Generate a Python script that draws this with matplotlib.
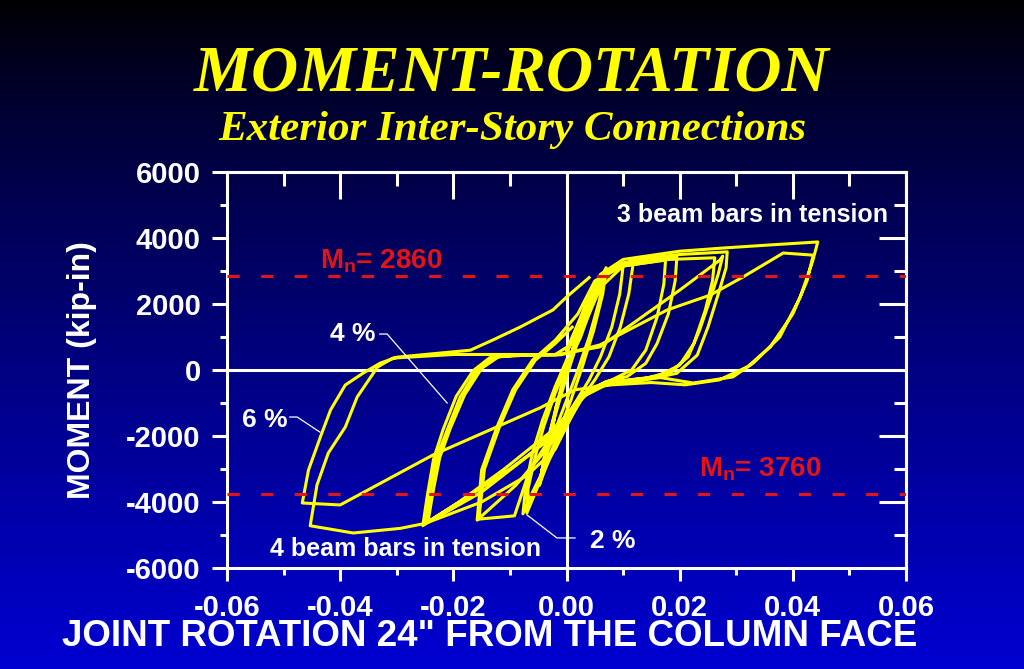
import numpy as np
import matplotlib.pyplot as plt
from matplotlib.ticker import MultipleLocator, FormatStrFormatter

plt.rcParams['font.family'] = ['Liberation Sans', 'DejaVu Sans']
plt.rcParams['axes.unicode_minus'] = False

# joint rotation (rad) and moment (kip-in), one continuous path per drift level
rot_05 = [0.0, 0.0012, 0.0025, 0.0035, 0.0030, 0.0015, 0.0, -0.0012, -0.0022, -0.0028, -0.0020, -0.0008,
          0.0005, 0.0018, 0.0030, 0.0034, 0.0026, 0.0010, -0.0005, -0.0018, -0.0027, -0.0018, -0.0005, 0.0005]
mom_05 = [0, 700, 1500, 2100, 1500, 600, -200, -900, -1500, -2000, -1300, -500,
          300, 1000, 1700, 2000, 1300, 400, -400, -1100, -1900, -1100, -300, 200]

rot_1 = [0.0005, 0.0020, 0.0040, 0.0058, 0.0070, 0.0064, 0.0048, 0.0028, 0.0008, -0.0012, -0.0030,
         -0.0042, -0.0048, -0.0040, -0.0026, -0.0010, 0.0008, 0.0028, 0.0050, 0.0064, 0.0068, 0.0058,
         0.0040, 0.0018, -0.0004, -0.0024, -0.0040, -0.0045, -0.0034, -0.0018, 0.0]
mom_1 = [200, 1100, 2000, 2700, 3100, 2300, 1200, 100, -900, -1800, -2600,
         -3200, -3500, -2700, -1700, -700, 400, 1400, 2400, 2900, 3000, 2100,
         1000, -100, -1100, -2000, -2800, -3200, -2200, -1100, 100]

rot_2 = [0.0, 0.0030, 0.0060, 0.0090, 0.0118, 0.0110, 0.0095, 0.0075, 0.0050, 0.0025, 0.0, -0.0030,
         -0.0050, -0.0070, -0.0068, -0.0055, -0.0040, -0.0020, 0.0, 0.0025, 0.0050, 0.0075, 0.0100,
         0.0094, 0.0080, 0.0060, 0.0040, 0.0015, -0.0010, -0.0040, -0.0060, -0.0077, -0.0072, -0.0060,
         -0.0042, -0.0020, 0.0]
mom_2 = [500, 1700, 2700, 3150, 3250, 2300, 1300, 400, -300, -900, -1700, -2700,
         -3500, -4330, -3600, -2600, -1700, -700, 100, 1000, 2200, 3000, 3150,
         2300, 1300, 400, -300, -1000, -1900, -3000, -3700, -4360, -3500, -2500,
         -1500, -500, 300]

rot_3 = [0.0, 0.0030, 0.0060, 0.0100, 0.0150, 0.0195, 0.0192, 0.0180, 0.0160, 0.0140, 0.0107, 0.0070,
         0.0030, 0.0005, -0.0030, -0.0090, -0.0158, -0.0150, -0.0123, -0.0095, -0.0060, -0.0020, 0.0020,
         0.0050, 0.0100, 0.0175, 0.0172, 0.0160, 0.0140, 0.0115, 0.0080, 0.0040, 0.0010, -0.0030,
         -0.0065, -0.0092, -0.0155, -0.0145, -0.0118, -0.0090, -0.0055, -0.0020, 0.0010]
mom_3 = [500, 1800, 2800, 3250, 3350, 3420, 2700, 1700, 800, 200, -200, -350,
         -700, -1400, -2300, -3500, -4550, -3030, -1730, -600, 300, 900, 1700,
         2700, 3150, 3330, 2600, 1600, 600, 0, -300, -600, -1200, -2100,
         -3030, -4420, -4520, -3000, -1700, -600, 300, 800, 1300]

rot_4 = [0.001, 0.004, 0.007, 0.012, 0.020, 0.0284, 0.0282, 0.0270, 0.0250, 0.0231, 0.0195, 0.0153,
         0.0118, 0.0070, 0.0030, 0.0005, -0.0030, -0.0100, -0.0180, -0.0250, -0.0241, -0.0229, -0.0211,
         -0.0188, -0.0158, -0.0130, -0.0080, -0.0020, 0.0059, 0.0200, 0.0271, 0.0276, 0.0268, 0.0255,
         0.0235, 0.0215, 0.0185, 0.0140, 0.0090, 0.0040, 0.0010, -0.0030, -0.0110, -0.0190, -0.0254,
         -0.0246, -0.0235, -0.0218, -0.0195, -0.0165, -0.0135, -0.0080, -0.0020, 0.0020,
         0.0060, 0.0100, 0.0180, 0.0262, 0.0258, 0.0245, 0.0225, 0.0200, 0.0160, 0.0110, 0.0060,
         0.0020, -0.0010, -0.0060, -0.0150, -0.0245, -0.0236, -0.0224, -0.0205, -0.0180, -0.0150, -0.0120]
mom_4 = [800, 2200, 3000, 3350, 3500, 3580, 3100, 2400, 1300, 450, -100, -250,
         -350, -450, -800, -1500, -2100, -3000, -3900, -4650, -3640, -2640, -1820,
         -820, 0, 390, 440, 450, 700, 2420, 3330, 3450, 2900, 2200,
         1200, 400, -50, -250, -350, -600, -1200, -1900, -3000, -4000, -4720,
         -3800, -2700, -1800, -800, -20, 380, 460, 470, 900,
         2500, 3150, 3350, 3400, 2700, 1800, 800, 150, -200, -300, -450,
         -900, -1600, -2500, -3700, -4620, -3700, -2650, -1750, -750, 50, 400]

rot_6 = [0.000, 0.003, 0.006, 0.010, 0.020, 0.028, 0.036, 0.0444, 0.0435, 0.0413, 0.0377, 0.0330,
         0.0294, 0.0224, 0.0166, 0.0110, 0.0050, 0.0020, 0.0000, -0.0020, -0.0070, -0.0150, -0.0250,
         -0.0294, -0.0377, -0.0453, -0.0441, -0.0421, -0.0391, -0.0370, -0.0334, -0.0307, -0.0200,
         -0.0100, -0.0010, 0.0059, 0.0178, 0.0254, 0.0312, 0.0383, 0.0436, 0.0425, 0.0400, 0.0360,
         0.0320, 0.0270, 0.0210, 0.0150, 0.0080, 0.0015, -0.0047, -0.0236, -0.0400, -0.0467, -0.0456,
         -0.0435, -0.0417, -0.0391, -0.0359, -0.0329, -0.0299, -0.0170, -0.0130, -0.0082, -0.0024,
         0.0000, 0.0040]
mom_6 = [600, 1800, 2900, 3350, 3600, 3700, 3790, 3880, 3300, 2210, 1000, 210,
         -210, -395, -230, -350, -500, -1000, -1700, -2400, -3200, -4000, -4650,
         -4800, -4940, -4720, -3485, -2515, -1730, -820, 90, 360, 470,
         470, 460, 760, 1820, 2270, 2820, 3545, 3480, 2700, 1700, 700,
         100, -300, -450, -380, -450, -600, -1150, -2575, -4090, -4030, -3030,
         -2030, -1210, -455, -90, 210, 390, 600, 910, 1300, 1820,
         2210, 2800]

mn_pos = 2860
mn_neg = -3760

x_ticks = [-0.06, -0.04, -0.02, 0.00, 0.02, 0.04, 0.06]
y_ticks = [-6000, -4000, -2000, 0, 2000, 4000, 6000]

yellow = '#ffff00'
red = '#e31414'

fig = plt.figure(figsize=(10.24, 6.69), dpi=100)

# background gradient black -> blue
bg = fig.add_axes([0, 0, 1, 1], zorder=-10)
t = np.linspace(0, 1, 256)[:, None]
grad = np.zeros((256, 2, 3))
grad[:, :, 2] = (0.82 * t ** 0.8)
bg.imshow(grad, aspect='auto', extent=[0, 1, 0, 1], origin='upper')
bg.axis('off')

ax = fig.add_axes([0.2217, 0.1510, 0.6631, 0.5919])
ax.set_facecolor('none')

ax.axhline(0, color='white', lw=2.2, zorder=1)
ax.axvline(0, color='white', lw=2.2, zorder=1)

for r, m in [(rot_05, mom_05), (rot_1, mom_1), (rot_2, mom_2), (rot_3, mom_3), (rot_4, mom_4), (rot_6, mom_6)]:
    ax.plot(r, m, color=yellow, lw=2.2, zorder=2)

ax.axhline(mn_pos, color=red, lw=2.2, dashes=(4, 7), zorder=4)
ax.axhline(mn_neg, color=red, lw=2.2, dashes=(4, 7), zorder=4)

ax.set_xlim(-0.06, 0.06)
ax.set_ylim(-6000, 6000)
ax.set_xticks(x_ticks)
ax.set_yticks(y_ticks)
ax.xaxis.set_major_formatter(FormatStrFormatter('%.2f'))
ax.xaxis.set_minor_locator(MultipleLocator(0.01))
ax.yaxis.set_minor_locator(MultipleLocator(1000))
for sp in ax.spines.values():
    sp.set_color('white')
    sp.set_linewidth(2.2)

ax.tick_params(axis='x', which='major', direction='out', length=9.5, width=2.2, color='white',
               labelcolor='white', labelsize=21, pad=9)
ax.tick_params(axis='x', which='minor', direction='out', length=5, width=2.2, color='white')
ax.tick_params(axis='y', which='major', direction='out', length=11, width=2.2, color='white',
               labelcolor='white', labelsize=21, pad=8)
ax.tick_params(axis='y', which='minor', direction='out', length=5, width=2.2, color='white')
for lab in ax.get_xticklabels() + ax.get_yticklabels():
    lab.set_fontweight('bold')

top = ax.secondary_xaxis('top')
top.set_xticks(x_ticks)
top.xaxis.set_minor_locator(MultipleLocator(0.01))
top.tick_params(which='major', direction='in', length=19.5, width=2.2, color='white', labeltop=False)
top.tick_params(which='minor', direction='in', length=10, width=2.2, color='white')
top.spines['top'].set_color('white')
top.spines['top'].set_linewidth(2.2)

right = ax.secondary_yaxis('right')
right.set_yticks(y_ticks)
right.yaxis.set_minor_locator(MultipleLocator(1000))
right.tick_params(which='major', direction='in', length=19.5, width=2.2, color='white', labelright=False)
right.tick_params(which='minor', direction='in', length=8.5, width=2.2, color='white')
right.spines['right'].set_color('white')
right.spines['right'].set_linewidth(2.2)

# annotations
ax.text(-0.0328, 3300, r'$\mathregular{M_n}$= 2860', color=red, fontsize=20, fontweight='bold',
        ha='center', va='center', zorder=5)
ax.text(0.0342, -3000, r'$\mathregular{M_n}$= 3760', color=red, fontsize=20, fontweight='bold',
        ha='center', va='center', zorder=5)
ax.text(0.0329, 4700, '3 beam bars in tension', color='white', fontsize=18, fontweight='bold',
        ha='center', va='center')
ax.text(-0.0285, -5420, '4 beam bars in tension', color='white', fontsize=18, fontweight='bold',
        ha='center', va='center')
ax.text(-0.0377, 1090, '4 %', color='white', fontsize=19, fontweight='bold', ha='center', va='center')
ax.text(-0.0533, -1515, '6 %', color='white', fontsize=19, fontweight='bold', ha='center', va='center')
ax.text(0.0082, -5180, '2 %', color='white', fontsize=19, fontweight='bold', ha='center', va='center')
ax.plot([-0.0330, -0.0317, -0.0211], [1090, 1090, -1000], color='white', lw=0.9, zorder=3)
ax.plot([-0.0489, -0.0476, -0.0436], [-1425, -1425, -1880], color='white', lw=0.9, zorder=3)
ax.plot([-0.0070, -0.0017, 0.0015], [-4390, -5090, -5090], color='white', lw=0.9, zorder=3)

fig.text(0.5, 0.888, 'MOMENT-ROTATION', color=yellow, fontsize=47, fontweight='bold', fontstyle='italic',
         family='Liberation Serif', ha='center', va='center')
fig.text(0.5, 0.806, 'Exterior Inter-Story Connections', color=yellow, fontsize=31, fontweight='bold',
         fontstyle='italic', family='Liberation Serif', ha='center', va='center')
fig.text(82 / 1024, 0.447, 'MOMENT (kip-in)', color='white', fontsize=23, fontweight='bold',
         rotation=90, ha='center', va='center')
fig.text(490 / 1024, 1 - 637 / 669, 'JOINT ROTATION 24" FROM THE COLUMN FACE', color='white',
         fontsize=26.5, fontweight='bold', ha='center', va='center')

fig.savefig('out.png', dpi=100)
